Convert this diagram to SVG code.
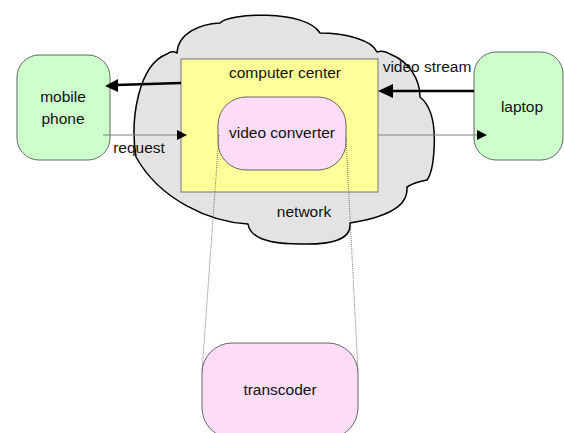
<svg xmlns="http://www.w3.org/2000/svg" width="564" height="433" viewBox="0 0 564 433">
  <style>
    text { font-family: "Liberation Sans", Arial, sans-serif; font-size: 15.5px; fill: #111; text-anchor: middle; }
    .cloud { fill: #e3e3e3; stroke: #000; stroke-width: 1.5; stroke-linejoin: round; }
    .center { fill: #ffff99; stroke: #777; stroke-width: 1; }
    .pink { fill: #fcdcf7; stroke: #666; stroke-width: 1; }
    .green { fill: #ccffcc; stroke: #666; stroke-width: 1; }
    .bold { stroke: #000; stroke-width: 2.5; fill: none; }
    .thin { stroke: #808080; stroke-width: 1; fill: none; }
    .dotted { stroke: #555; stroke-width: 0.8; stroke-dasharray: 1 1; fill: none; }
    .head { fill: #000; }
  </style>

  <!-- network cloud -->
  <g id="network">
    <path class="cloud" d="M177,53 C178,33 200,24 220,23 C228,13 305,9 320,33 C345,33 372,40 377,52 Q384,50 390,54 C410,62 420,80 420,97 C430,105 436,120 434,150 C433,168 430,176 427,180 Q415,182 407,187 C408,200 400,215 350,223 C352,240 330,245 300,244 C270,244 250,238 248,224 C210,222 160,200 136,157 C130,120 138,65 167,54 Q172,50 177,53 Z"/>
    <text x="304" y="217">network</text>
  </g>

  <!-- computer center -->
  <g id="computer-center">
    <rect class="center" x="181" y="59" width="197" height="133"/>
    <text x="285" y="78">computer center</text>
  </g>

  <!-- video converter -->
  <g id="video-converter">
    <rect class="pink" x="218" y="97" width="128" height="73" rx="28" ry="28"/>
    <text x="282" y="138">video converter</text>
  </g>

  <!-- transcoder (runs past the bottom edge) -->
  <g id="transcoder">
    <rect class="pink" x="202" y="343" width="156" height="95" rx="30" ry="30"/>
    <text x="280" y="395">transcoder</text>
  </g>

  <!-- mobile phone -->
  <g id="mobile-phone">
    <rect class="green" x="17" y="55" width="93" height="105" rx="22" ry="22"/>
    <text x="63" y="102">mobile</text>
    <text x="63" y="124">phone</text>
  </g>

  <!-- laptop -->
  <g id="laptop">
    <rect class="green" x="474" y="52" width="89" height="108" rx="22" ry="22"/>
    <text x="522" y="112">laptop</text>
  </g>

  <!-- connectors -->
  <g id="connectors">
    <!-- computer center to mobile phone -->
    <line class="bold" x1="181" y1="83" x2="116" y2="85"/>
    <polygon class="head" points="105,86 118,79 118,92"/>

    <!-- laptop to computer center (video stream) -->
    <line class="bold" x1="474" y1="91" x2="391" y2="91"/>
    <polygon class="head" points="378,91 393,84 393,98"/>
    <text x="427" y="72">video stream</text>

    <!-- mobile phone request -->
    <line class="thin" x1="103" y1="135" x2="179" y2="135"/>
    <polygon class="head" points="187,135 177,130 177,140"/>
    <text x="139" y="153">request</text>

    <!-- computer center to laptop -->
    <line class="thin" x1="378" y1="135" x2="479" y2="135"/>
    <polygon class="head" points="487,135 477,130 477,140"/>

    <!-- video converter detail to transcoder -->
    <line class="dotted" x1="219" y1="135" x2="202" y2="372"/>
    <line class="dotted" x1="346" y1="138" x2="358" y2="372"/>
  </g>
</svg>
